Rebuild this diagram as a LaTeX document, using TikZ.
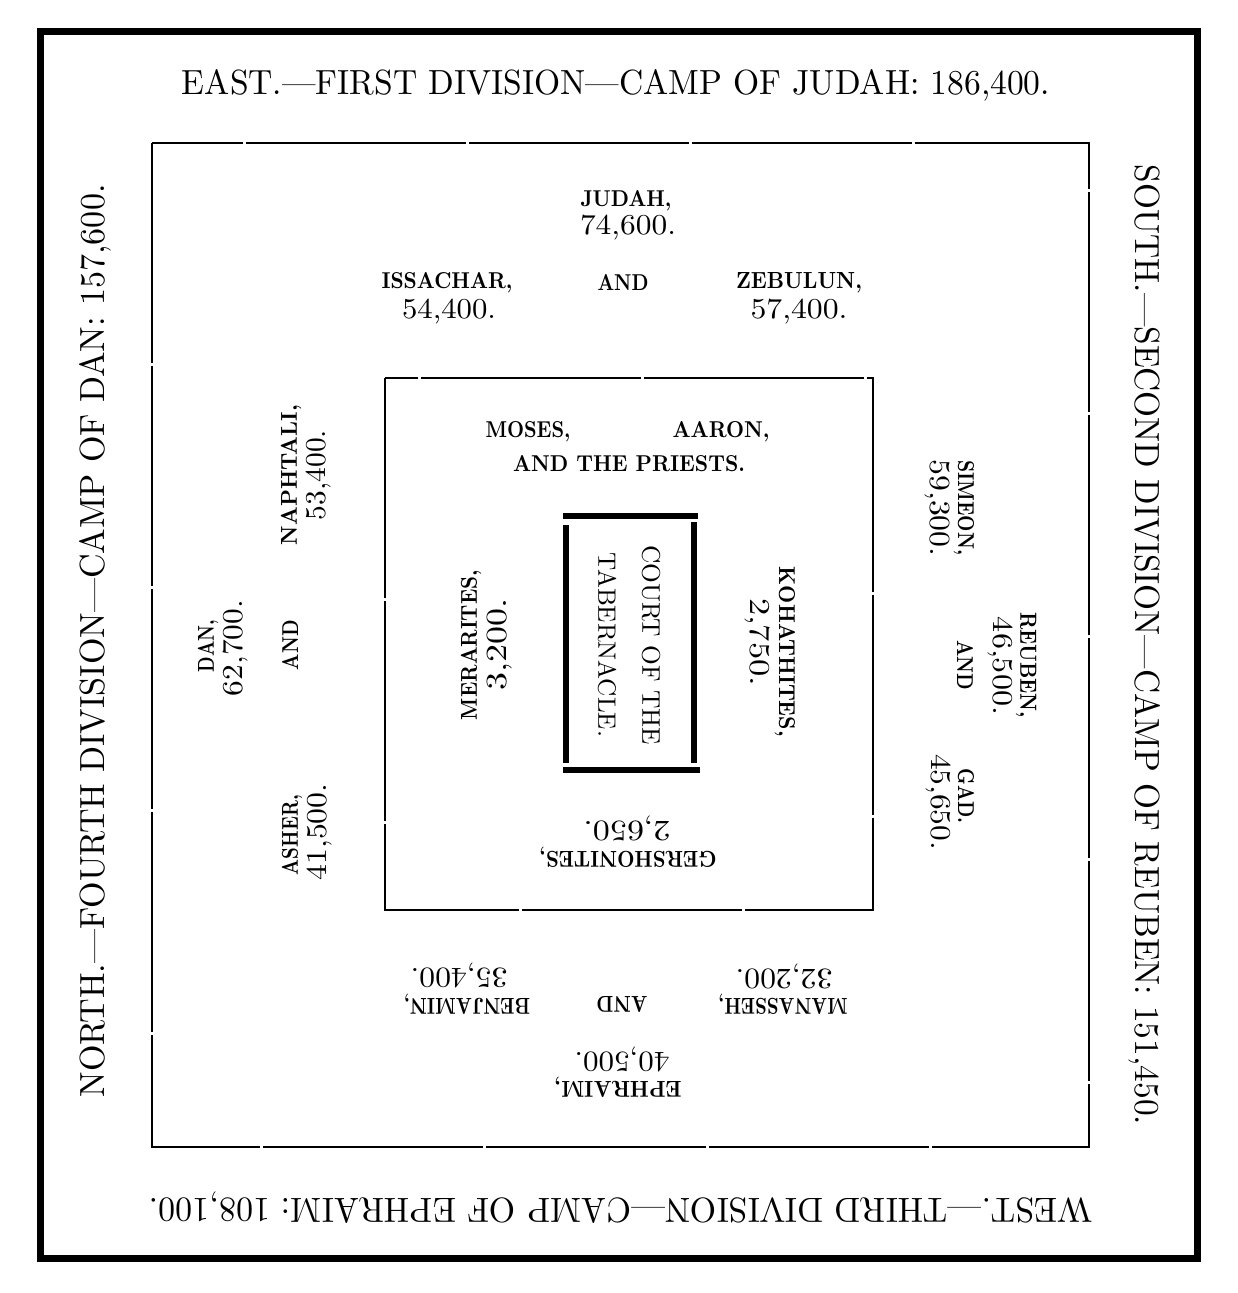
\documentclass[tikz,border=0pt]{standalone}
\usepackage{graphicx}
\newcommand{\fitw}[2]{\resizebox{#1pt}{!}{#2}}
\newcommand{\fitwh}[3]{\resizebox{#1pt}{#2pt}{#3}}
\newcommand{\nm}[2]{\fitwh{#1}{8}{#2}}
\newcommand{\nb}[2]{\fitwh{#1}{9.75}{#2}}
\tikzset{
  frame/.style={line width=3.5pt},
  camp/.style={line width=0.8pt, dash pattern=on 110pt off 1.5pt},
  court/.style={line width=3pt},
  lbl/.style={inner sep=0pt, font=\bfseries},
  num/.style={inner sep=0pt},
  ttl/.style={inner sep=0pt},
}
\begin{document}
\begin{tikzpicture}[x=0.5pt,y=-0.5pt]
\useasboundingbox (0,0) rectangle (1237,1293);
\fill[white] (0,0) rectangle (1237,1293);

% frames
\draw[frame] (40,32) rectangle (1197,1258);
\draw[camp] (152,143) rectangle (1089,1147);
\draw[camp] (385,378) rectangle (873,910);

% court of the tabernacle
\coordinate (ctl) at (563,516); \coordinate (ctr) at (698,516);
\coordinate (cbl) at (563,770); \coordinate (cbr) at (700,770);
\coordinate (cl1) at (566,525); \coordinate (cl2) at (566,763);
\coordinate (cr1) at (694,522); \coordinate (cr2) at (694,763);
\draw[court] (ctl) -- (ctr);
\draw[court] (cbl) -- (cbr);
\draw[court] (cl1) -- (cl2);
\draw[court] (cr1) -- (cr2);

% outer titles
\node[ttl] (east) at (616,85) {\fitwh{434}{12.5}{EAST.---FIRST DIVISION---CAMP OF JUDAH: 186,400.}};
\node[ttl,rotate=180] (west) at (621,1208) {\fitwh{471.5}{12.5}{WEST.---THIRD DIVISION---CAMP OF EPHRAIM: 108,100.}};
\node[ttl,rotate=90] (north) at (95,641) {\fitwh{456.5}{12.5}{NORTH.---FOURTH DIVISION---CAMP OF DAN: 157,600.}};
\node[ttl,rotate=-90] (south) at (1145,645) {\fitwh{480}{12.5}{SOUTH.---SECOND DIVISION---CAMP OF REUBEN: 151,450.}};

% east camp
\node[lbl] (judah) at (626,201) {\nm{45.5}{JUDAH,}};
\node[num] (judahn) at (628,228) {\nb{48}{74,600.}};
\node[lbl] (issachar) at (447,283) {\nm{65.5}{ISSACHAR,}};
\node[num] (issacharn) at (449,312) {\nb{47}{54,400.}};
\node[lbl] (eand) at (623,283) {\nm{25.5}{AND}};
\node[lbl] (zebulun) at (799,283) {\nm{63}{ZEBULUN,}};
\node[num] (zebulunn) at (799,312) {\nb{48.5}{57,400.}};

% north camp
\node[lbl,rotate=90] (dan) at (208,646) {\nm{26}{DAN,}};
\node[num,rotate=90] (dann) at (236,648) {\nb{48}{62,700.}};
\node[lbl,rotate=90] (nand) at (290,645) {\nm{25}{AND}};
\node[lbl,rotate=90] (naphtali) at (291,475) {\nm{70}{NAPHTALI,}};
\node[num,rotate=90] (naphtalin) at (319,475) {\nb{45}{53,400.}};
\node[lbl,rotate=90] (asher) at (292,835) {\nm{40}{ASHER,}};
\node[num,rotate=90] (ashern) at (320,832) {\nb{48.5}{41,500.}};

% south camp
\node[lbl,rotate=-90] (simeon) at (964,508) {\nm{47.5}{SIMEON,}};
\node[num,rotate=-90] (simeonn) at (937,508) {\nb{48.5}{59,300.}};
\node[lbl,rotate=-90] (reuben) at (1026,665) {\nm{53}{REUBEN,}};
\node[num,rotate=-90] (reubenn) at (1000,666) {\nb{49}{46,500.}};
\node[lbl,rotate=-90] (sand) at (965,665) {\nm{25}{AND}};
\node[lbl,rotate=-90] (gad) at (966,796) {\nm{27.5}{GAD.}};
\node[num,rotate=-90] (gadn) at (938,802) {\nb{48}{45,650.}};

% west camp
\node[lbl,rotate=180] (manasseh) at (783,1004) {\nm{64.5}{MANASSEH,}};
\node[num,rotate=180] (manassehn) at (784,976) {\nb{48.5}{32,200.}};
\node[lbl,rotate=180] (wand) at (622,1004) {\nm{25.5}{AND}};
\node[lbl,rotate=180] (benjamin) at (467,1004) {\nm{63}{BENJAMIN,}};
\node[num,rotate=180] (benjaminn) at (459,975) {\nb{48.5}{35,400.}};
\node[lbl,rotate=180] (ephraim) at (618,1087) {\nm{63.5}{EPHRAIM,}};
\node[num,rotate=180] (ephraimn) at (622,1059) {\nb{47.5}{40,500.}};

% levites and priests
\node[lbl] (moses) at (528,432) {\nm{42.5}{MOSES,}};
\node[lbl] (aaron) at (721,432) {\nm{48.5}{AARON,}};
\node[lbl] (priests) at (629,464) {\fitwh{116}{8}{AND THE PRIESTS.}};
\node[lbl,rotate=90] (merarites) at (471,645) {\nm{75}{MERARITES,}};
\node[num,rotate=90] (meraritesn) at (500,644) {\nb{46}{3,200.}};
\node[lbl,rotate=-90] (kohathites) at (785,652) {\nm{85}{KOHATHITES,}};
\node[num,rotate=-90] (kohathitesn) at (757,642) {\nb{44}{2,750.}};
\node[lbl,rotate=180] (gershonites) at (628,857) {\nm{88.5}{GERSHONITES,}};
\node[num,rotate=180] (gershonitesn) at (627,828) {\nb{43.5}{2,650.}};

% court text
\node[num,rotate=-90] (court1) at (651,645) {\fitwh{100}{9}{COURT OF THE}};
\node[num,rotate=-90] (court2) at (607,645) {\fitwh{92}{9}{TABERNACLE.}};
\end{tikzpicture}
\end{document}
